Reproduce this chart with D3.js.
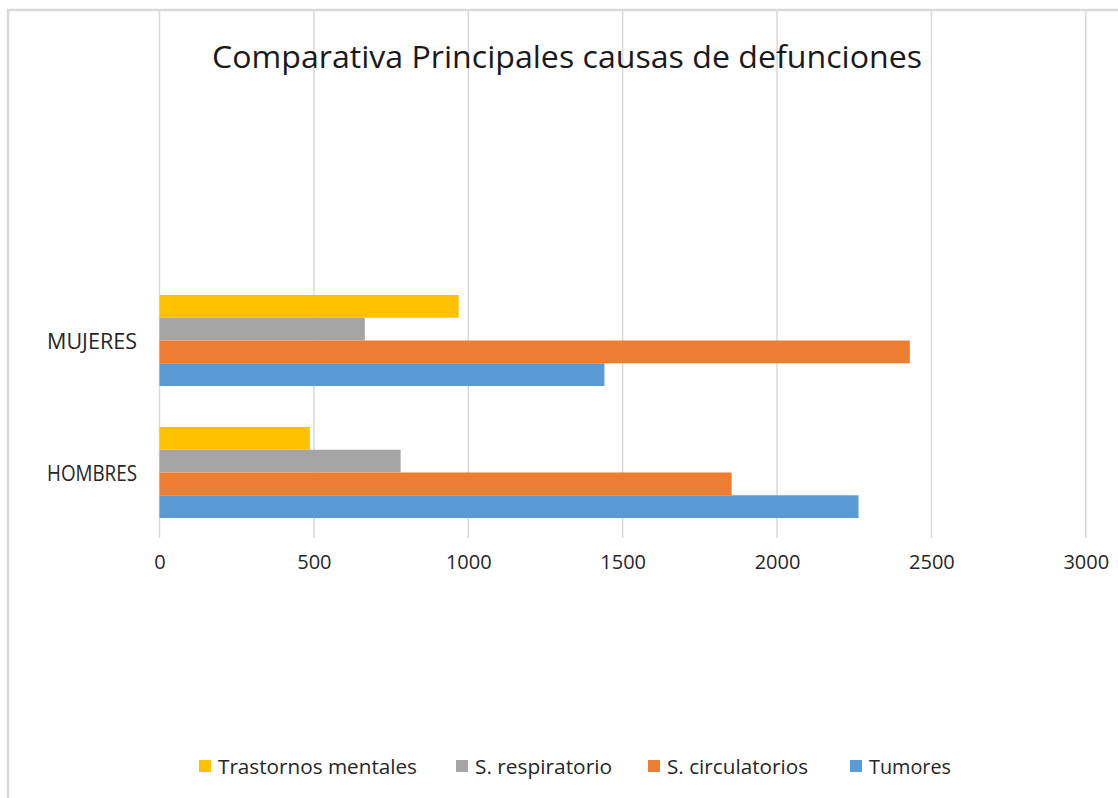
<!DOCTYPE html>
<html>
<head>
<meta charset="utf-8">
<script src="https://cdn.jsdelivr.net/npm/d3@7"></script>
<style>
  html, body { margin: 0; padding: 0; background: #fff; }
  svg { display: block; font-family: "Open Sans", sans-serif; }
</style>
</head>
<body>
<svg id="chart" width="1118" height="798"></svg>
<script>
const categories = ["MUJERES", "HOMBRES"];
const seriesNames = ["Trastornos mentales", "S. respiratorio", "S. circulatorios", "Tumores"];
const seriesColors = ["#FFC000", "#A5A5A5", "#ED7D31", "#5B9BD5"];
const trastornosMentales = [969, 487];
const sRespiratorio = [665, 781];
const sCirculatorios = [2430, 1853];
const tumores = [1441, 2264];
const xTicks = [0, 500, 1000, 1500, 2000, 2500, 3000];
const title = "Comparativa Principales causas de defunciones";

const seriesValues = [trastornosMentales, sRespiratorio, sCirculatorios, tumores];

const svg = d3.select("#chart");

// border
svg.append("line").attr("x1", 7).attr("x2", 1118).attr("y1", 10).attr("y2", 10)
  .attr("stroke", "#d9d9d9").attr("stroke-width", 2.5);
svg.append("line").attr("x1", 8).attr("x2", 8).attr("y1", 9).attr("y2", 798)
  .attr("stroke", "#d9d9d9").attr("stroke-width", 2.5);

const x = d3.scaleLinear().domain([0, 3000]).range([159.5, 1085.8]);
const y = d3.scaleBand().domain(categories).range([274.5, 538.5])
  .paddingInner(0.31).paddingOuter(0.155);
const ySub = d3.scaleBand().domain(seriesNames).range([0, y.bandwidth()]);

// gridlines
svg.append("g").selectAll("line").data(xTicks).join("line")
  .attr("x1", d => x(d)).attr("x2", d => x(d))
  .attr("y1", 11).attr("y2", 538)
  .attr("stroke", "#d9d9d9").attr("stroke-width", 1.5);

// bars
seriesNames.forEach((s, i) => {
  svg.append("g").selectAll("rect").data(categories).join("rect")
    .attr("x", x(0))
    .attr("y", (c) => y(c) + ySub(s))
    .attr("width", (c, j) => x(seriesValues[i][j]) - x(0))
    .attr("height", ySub.bandwidth())
    .attr("fill", seriesColors[i]);
});

// x axis labels
const xAxis = d3.axisBottom(x).tickValues(xTicks).tickSize(0).tickFormat(d3.format("d"));
const gx = svg.append("g").attr("transform", "translate(0,552)").call(xAxis);
gx.select(".domain").remove();
gx.selectAll("text").attr("font-size", 20).attr("fill", "#262626")
  .attr("font-family", "'Open Sans', sans-serif");

// category labels
const yAxis = d3.axisLeft(y).tickSize(0).tickPadding(0);
const gy = svg.append("g").attr("transform", "translate(137,2)").call(yAxis);
gy.select(".domain").remove();
gy.selectAll("text").attr("font-size", 21).attr("fill", "#262626")
  .attr("font-family", "'Open Sans', sans-serif")
  .attr("textLength", 90).attr("lengthAdjust", "spacingAndGlyphs");

// title
svg.append("text").attr("x", 567).attr("y", 68).attr("text-anchor", "middle")
  .attr("font-size", 31).attr("fill", "#1a1a1a")
  .attr("textLength", 710).attr("lengthAdjust", "spacingAndGlyphs")
  .text(title);

// legend
const legendX = [199, 456, 648, 850];
const legendW = [199, 137, 141, 82];
const lg = svg.append("g");
seriesNames.forEach((s, i) => {
  lg.append("rect").attr("x", legendX[i]).attr("y", 760).attr("width", 12).attr("height", 12)
    .attr("fill", seriesColors[i]);
  lg.append("text").attr("x", legendX[i] + 19).attr("y", 774)
    .attr("font-size", 20).attr("fill", "#262626")
    .attr("textLength", legendW[i]).attr("lengthAdjust", "spacingAndGlyphs")
    .text(s);
});
</script>
</body>
</html>
